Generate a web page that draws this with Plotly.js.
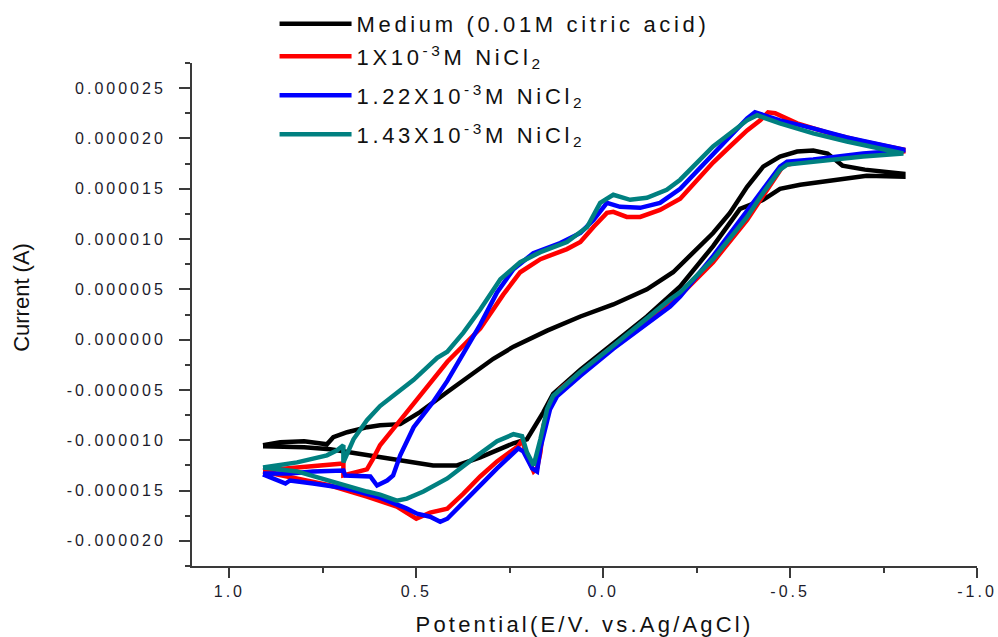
<!DOCTYPE html>
<html>
<head>
<meta charset="utf-8">
<script src="https://cdn.plot.ly/plotly-3.0.1.min.js"></script>
<style>
  html, body { margin: 0; padding: 0; background: #fff; }
  #chart { width: 998px; height: 637px; }
  .xtick text, .ytick text { letter-spacing: 3px; }
  .legendtext { letter-spacing: 3.65px; }
  .g-xtitle text { letter-spacing: 3.2px; }
</style>
</head>
<body>
<div id="chart"></div>
<script>
// ---- Data (potential in V, current in A) ----
const seriesNames = [
  "Medium (0.01M citric acid)",
  "1X10<sup>-3</sup>M NiCl<sub>2</sub>",
  "1.22X10<sup>-3</sup>M NiCl<sub>2</sub>",
  "1.43X10<sup>-3</sup>M NiCl<sub>2</sub>"
];

const blackV = [0.91, 0.864, 0.80, 0.739, 0.722, 0.685, 0.631, 0.597, 0.543, 0.49, 0.417, 0.329, 0.294, 0.24, 0.15, 0.061, -0.027, -0.117, -0.187, -0.294, -0.339, -0.385, -0.428, -0.473, -0.519, -0.562, -0.60, -0.64, -0.70, -0.803,
                -0.803, -0.705, -0.616, -0.527, -0.473, -0.428, -0.40, -0.366, -0.294, -0.206, -0.117, -0.027, 0.061, 0.134, 0.16, 0.204, 0.24, 0.329, 0.391, 0.455, 0.507, 0.597, 0.668, 0.73, 0.80, 0.91];
const blackI = [-10.5e-6, -10.2e-6, -10.1e-6, -10.4e-6, -9.7e-6, -9.2e-6, -8.7e-6, -8.5e-6, -8.4e-6, -7.2e-6, -5.2e-6, -2.9e-6, -1.9e-6, -0.7e-6, 0.9e-6, 2.3e-6, 3.5e-6, 5.0e-6, 6.7e-6, 10.6e-6, 12.6e-6, 15.2e-6, 17.2e-6, 18.2e-6, 18.7e-6, 18.8e-6, 18.5e-6, 17.3e-6, 16.9e-6, 16.5e-6,
                16.2e-6, 16.3e-6, 15.9e-6, 15.4e-6, 15.0e-6, 13.9e-6, 13.5e-6, 13.0e-6, 9.3e-6, 5.3e-6, 2.3e-6, -0.4e-6, -3.0e-6, -5.4e-6, -7.2e-6, -9.9e-6, -10.3e-6, -11.7e-6, -12.5e-6, -12.5e-6, -12.2e-6, -11.7e-6, -11.2e-6, -10.9e-6, -10.7e-6, -10.6e-6];

const redV = [0.91, 0.83, 0.757, 0.695, 0.695, 0.632, 0.615, 0.597, 0.562, 0.507, 0.455, 0.417, 0.329, 0.267, 0.222, 0.168, 0.097, 0.061, 0.026, -0.01, -0.027, -0.063, -0.099, -0.152, -0.206, -0.251, -0.294, -0.339, -0.385, -0.42, -0.441, -0.46, -0.519, -0.607, -0.695, -0.803,
              -0.803, -0.695, -0.607, -0.519, -0.482, -0.465, -0.428, -0.385, -0.339, -0.294, -0.206, -0.117, -0.027, 0.061, 0.115, 0.142, 0.16, 0.168, 0.177, 0.186, 0.204, 0.217, 0.228, 0.284, 0.329, 0.374, 0.417, 0.463, 0.50, 0.552, 0.597, 0.632, 0.73, 0.819, 0.91];
const redI = [-13.0e-6, -12.7e-6, -12.5e-6, -12.3e-6, -13.5e-6, -12.9e-6, -11.8e-6, -10.5e-6, -8.9e-6, -6.3e-6, -3.9e-6, -2.2e-6, 1.1e-6, 4.5e-6, 6.7e-6, 8.0e-6, 9.0e-6, 9.7e-6, 11.2e-6, 12.6e-6, 12.7e-6, 12.2e-6, 12.2e-6, 12.9e-6, 14.0e-6, 15.9e-6, 17.6e-6, 19.2e-6, 20.8e-6, 21.8e-6, 22.6e-6, 22.5e-6, 21.5e-6, 20.5e-6, 19.7e-6, 18.9e-6,
              18.7e-6, 18.3e-6, 18.0e-6, 17.6e-6, 17.3e-6, 16.4e-6, 14.3e-6, 11.9e-6, 9.7e-6, 7.7e-6, 4.4e-6, 1.7e-6, -0.6e-6, -3.2e-6, -4.9e-6, -6.2e-6, -8.6e-6, -11.2e-6, -12.8e-6, -13.1e-6, -11.5e-6, -10.0e-6, -10.6e-6, -12.1e-6, -13.6e-6, -15.3e-6, -16.8e-6, -17.2e-6, -17.8e-6, -16.6e-6, -16.1e-6, -15.6e-6, -14.5e-6, -13.8e-6, -13.1e-6];

const blueV = [0.91, 0.838, 0.776, 0.695, 0.69, 0.623, 0.605, 0.578, 0.562, 0.543, 0.507, 0.455, 0.417, 0.374, 0.329, 0.284, 0.24, 0.187, 0.115, 0.061, 0.026, -0.01, -0.045, -0.099, -0.152, -0.206, -0.294, -0.385, -0.406, -0.473, -0.562, -0.652, -0.803,
               -0.803, -0.695, -0.562, -0.492, -0.473, -0.455, -0.428, -0.385, -0.294, -0.206, -0.179, -0.027, 0.061, 0.123, 0.142, 0.168, 0.177, 0.19, 0.214, 0.227, 0.284, 0.329, 0.374, 0.417, 0.436, 0.463, 0.498, 0.525, 0.597, 0.685, 0.776, 0.838, 0.85, 0.91];
const blueI = [-13.3e-6, -13.3e-6, -13.1e-6, -13.0e-6, -13.5e-6, -13.6e-6, -14.5e-6, -14.0e-6, -13.5e-6, -11.5e-6, -8.7e-6, -6.2e-6, -4.1e-6, -1.3e-6, 1.5e-6, 4.7e-6, 7.0e-6, 8.6e-6, 9.6e-6, 10.6e-6, 11.9e-6, 13.6e-6, 13.2e-6, 13.1e-6, 13.6e-6, 15.0e-6, 18.5e-6, 22.0e-6, 22.6e-6, 21.8e-6, 21.0e-6, 20.1e-6, 18.9e-6,
               18.8e-6, 18.5e-6, 17.9e-6, 17.7e-6, 17.2e-6, 16.3e-6, 15.0e-6, 12.8e-6, 8.3e-6, 4.3e-6, 3.3e-6, -0.9e-6, -3.6e-6, -5.6e-6, -6.9e-6, -10.8e-6, -13.1e-6, -12.8e-6, -11.1e-6, -10.8e-6, -12.8e-6, -14.5e-6, -16.1e-6, -17.8e-6, -18.1e-6, -17.6e-6, -17.3e-6, -16.8e-6, -15.7e-6, -14.8e-6, -14.3e-6, -14.0e-6, -14.3e-6, -13.4e-6];

const tealV = [0.91, 0.819, 0.739, 0.712, 0.695, 0.695, 0.668, 0.632, 0.597, 0.543, 0.507, 0.444, 0.417, 0.374, 0.329, 0.275, 0.222, 0.168, 0.097, 0.043, 0.008, -0.027, -0.072, -0.117, -0.17, -0.206, -0.294, -0.385, -0.412, -0.473, -0.562, -0.652, -0.803,
               -0.803, -0.695, -0.562, -0.492, -0.473, -0.428, -0.385, -0.294, -0.206, -0.179, -0.027, 0.061, 0.134, 0.15, 0.168, 0.186, 0.204, 0.217, 0.24, 0.284, 0.347, 0.417, 0.481, 0.525, 0.552, 0.597, 0.632, 0.73, 0.819, 0.91];
const tealI = [-12.7e-6, -12.2e-6, -11.5e-6, -11.0e-6, -10.5e-6, -12.2e-6, -9.9e-6, -8.0e-6, -6.6e-6, -5.0e-6, -4.0e-6, -1.8e-6, -1.2e-6, 0.7e-6, 3.0e-6, 6.0e-6, 7.7e-6, 8.7e-6, 9.7e-6, 11.2e-6, 13.6e-6, 14.4e-6, 13.9e-6, 14.1e-6, 14.9e-6, 15.9e-6, 19.2e-6, 21.8e-6, 22.3e-6, 21.5e-6, 20.5e-6, 19.7e-6, 18.6e-6,
               18.5e-6, 18.2e-6, 17.7e-6, 17.4e-6, 16.9e-6, 14.6e-6, 12.2e-6, 8.0e-6, 4.7e-6, 4.0e-6, -0.6e-6, -3.2e-6, -5.6e-6, -6.9e-6, -9.9e-6, -12.5e-6, -11.2e-6, -9.6e-6, -9.4e-6, -10.1e-6, -11.8e-6, -13.8e-6, -15.1e-6, -15.8e-6, -16.0e-6, -15.4e-6, -15.1e-6, -14.1e-6, -13.1e-6, -12.7e-6];

// ---- Axis ticks and titles ----
const xTickVals = [1.0, 0.5, 0.0, -0.5, -1.0];
const xTickText = ["1.0", "0.5", "0.0", "-0.5", "-1.0"];
const xMinorVals = [0.75, 0.25, -0.25, -0.75];
const yTickVals = [-20e-6, -15e-6, -10e-6, -5e-6, 0, 5e-6, 10e-6, 15e-6, 20e-6, 25e-6];
const yTickText = ["-0.000020", "-0.000015", "-0.000010", "-0.000005", "0.000000", "0.000005", "0.000010", "0.000015", "0.000020", "0.000025"];
const yMinorVals = [-22.5e-6, -17.5e-6, -12.5e-6, -7.5e-6, -2.5e-6, 2.5e-6, 7.5e-6, 12.5e-6, 17.5e-6, 22.5e-6, 27.5e-6];
const xTitle = "Potential(E/V. vs.Ag/AgCl)";
const yTitle = "Current (A)";

const colors = ["#000000", "#ff0000", "#0000ff", "#008080"];
const xs = [blackV, redV, blueV, tealV];
const ys = [blackI, redI, blueI, tealI];

const traces = xs.map((x, i) => ({
  x: x, y: ys[i], type: "scatter", mode: "lines",
  name: seriesNames[i],
  line: { color: colors[i], width: 4.5 }
}));

const FONT = "Liberation Sans, Arial, sans-serif";
const axisColor = "#3a3a3a";

const layout = {
  width: 998, height: 637,
  margin: { l: 192, r: 21, t: 63, b: 71, autoexpand: false },
  paper_bgcolor: "#ffffff", plot_bgcolor: "#ffffff",
  font: { family: FONT, color: "#1a1a1a" },
  showlegend: true,
  legend: {
    xref: "container", yref: "container",
    x: 0.2751, y: 0.9953, xanchor: "left", yanchor: "top",
    font: { family: FONT, size: 22, color: "#111" },
    bgcolor: "rgba(0,0,0,0)", borderwidth: 0
  },
  xaxis: {
    range: [1.1, -1.0], automargin: false,
    showline: true, linecolor: axisColor, linewidth: 2, mirror: false,
    showgrid: false, zeroline: false,
    tickmode: "array", tickvals: xTickVals, ticktext: xTickText,
    ticks: "outside", ticklen: 10, tickwidth: 2, tickcolor: axisColor,
    tickfont: { family: FONT, size: 16, color: "#1c1c2c" },
    minor: { tickmode: "array", tickvals: xMinorVals, ticks: "outside", ticklen: 5, tickwidth: 2, tickcolor: axisColor, showgrid: false },
    title: { text: xTitle, font: { family: FONT, size: 22, color: "#111" }, standoff: 17 }
  },
  yaxis: {
    range: [-22.5e-6, 27.5e-6], automargin: false,
    showline: true, linecolor: axisColor, linewidth: 2, mirror: false,
    showgrid: false, zeroline: false,
    tickmode: "array", tickvals: yTickVals, ticktext: yTickText,
    ticks: "outside", ticklen: 11, tickwidth: 2, tickcolor: axisColor,
    ticklabelstandoff: 10,
    tickfont: { family: FONT, size: 16, color: "#1c1c2c" },
    minor: { tickmode: "array", tickvals: yMinorVals, ticks: "outside", ticklen: 5, tickwidth: 2, tickcolor: axisColor, showgrid: false }
  },
  annotations: [{
    text: yTitle, textangle: -90,
    xref: "paper", yref: "paper", x: -0.2166, y: 0.535,
    xanchor: "center", yanchor: "middle", showarrow: false,
    font: { family: FONT, size: 22, color: "#111" }
  }]
};

Plotly.newPlot("chart", traces, layout, { displayModeBar: false, staticPlot: true }).then(() => {
  // lengthen legend line samples, let text run past the measured box, and set row spacing like the reference
  document.querySelectorAll(".legend [clip-path]").forEach(e => e.removeAttribute("clip-path"));
  const rows = Array.from(document.querySelectorAll(".legend .traces"));
  const rowOffsets = [0, 32.5, 71.5, 110.5];
  let baseX = null, baseY = null;
  rows.forEach((g, i) => {
    const m = /translate\(\s*([-\d.]+)[ ,]+([-\d.]+)\s*\)/.exec(g.getAttribute("transform") || "");
    if (m) {
      if (baseX === null) { baseX = parseFloat(m[1]); baseY = parseFloat(m[2]); }
      g.setAttribute("transform", "translate(" + baseX + "," + (baseY + rowOffsets[i]) + ")");
    }
    const p = g.querySelector("path.js-line");
    if (p) p.setAttribute("d", "M5,0h72");
    const t = g.querySelector("text.legendtext");
    if (t) t.setAttribute("x", 82);
  });
});
</script>
</body>
</html>
